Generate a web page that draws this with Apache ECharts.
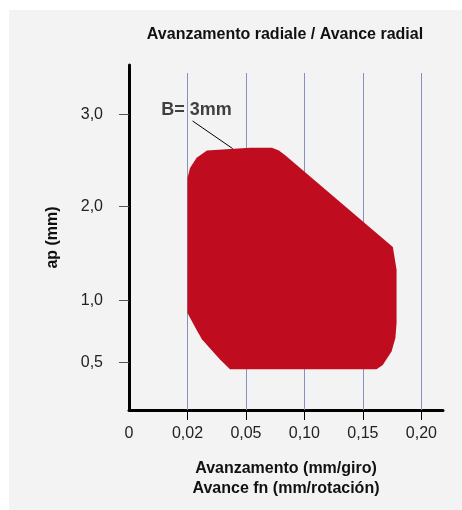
<!DOCTYPE html>
<html>
<head>
<meta charset="utf-8">
<script src="https://cdn.jsdelivr.net/npm/echarts@6/dist/echarts.min.js"></script>
<style>
html, body { margin: 0; padding: 0; background: #fff; }
#panel { position: absolute; left: 9px; top: 10px; width: 453px; height: 500px; background: #f3f3f3; }
#chart { position: absolute; left: 0; top: 0; width: 462px; height: 510px; }
</style>
</head>
<body>
<div id="panel"></div>
<div id="chart"></div>
<script>
var fnTicks = [0, 0.02, 0.05, 0.10, 0.15, 0.20];
var fnLabels = ['0', '0,02', '0,05', '0,10', '0,15', '0,20'];
var apTicks = [0.5, 1, 2, 3];
var apLabels = ['0,5', '1,0', '2,0', '3,0'];

// outline of the B = 3mm working field (fn mm/giro, ap mm)
var areaFn = [0.020, 0.0213, 0.0247, 0.030, 0.0534, 0.0722, 0.0782, 0.0833, 0.1756, 0.1788,
              0.1788, 0.1778, 0.1745, 0.167, 0.1617, 0.0418, 0.0367, 0.0315, 0.0274, 0.0247, 0.020];
var areaAp = [2.31, 2.42, 2.53, 2.61, 2.64, 2.64, 2.61, 2.56, 1.57, 1.33,
              0.82, 0.70, 0.59, 0.476, 0.43, 0.43, 0.526, 0.616, 0.69, 0.764, 0.90];

// leader line of the "B= 3mm" note
var leaderFn = [0.0226, 0.0432];
var leaderAp = [2.93, 2.63];

// both axes of the drawing are not linear, map values piecewise onto the axis
var fnSlots = [0, 1, 2, 3, 4, 5];
var apKnots = [0, 0.5, 1, 2, 3];
var apPos = [0, 47.3, 109.3, 203.3, 295.5];

function piece(v, xs, ys) {
    var i = 1;
    while (i < xs.length - 1 && v > xs[i]) i++;
    return ys[i - 1] + (v - xs[i - 1]) * (ys[i] - ys[i - 1]) / (xs[i] - xs[i - 1]);
}
function fx(v) { return piece(v, fnTicks, fnSlots); }
function ay(v) { return piece(v, apKnots, apPos); }

var areaPts = areaFn.map(function (f, i) { return [fx(f), ay(areaAp[i])]; });
var leaderPts = leaderFn.map(function (f, i) { return [fx(f), ay(leaderAp[i])]; });
var apTickPos = apTicks.map(ay);

var font = 'Liberation Sans, Arial, sans-serif';

var chart = echarts.init(document.getElementById('chart'));
var option = {
    animation: false,
    backgroundColor: 'transparent',
    grid: { left: 129, right: 19, top: 65, bottom: 100 },
    graphic: [{
        type: 'text',
        x: 285, y: 35,
        style: {
            text: 'Avanzamento radiale / Avance radial',
            font: 'bold 16px ' + font,
            fill: '#111',
            textAlign: 'center',
            textVerticalAlign: 'middle'
        }
    }],
    xAxis: {
        type: 'value',
        min: 0,
        max: 5.37,
        interval: 1,
        name: 'Avanzamento (mm/giro)\nAvance fn (mm/rotación)',
        nameLocation: 'middle',
        nameGap: 49,
        nameTextStyle: { fontFamily: font, fontWeight: 'bold', fontSize: 16, lineHeight: 20, color: '#111' },
        axisLine: { lineStyle: { color: '#000', width: 3 } },
        axisTick: { customValues: [1, 2, 3, 4, 5], length: 10, lineStyle: { color: '#000', width: 1 } },
        axisLabel: {
            customValues: fnSlots,
            margin: 16,
            fontFamily: font,
            fontSize: 16,
            color: '#222',
            formatter: function (v) { return fnLabels[Math.round(v)]; }
        },
        splitLine: { show: false }
    },
    yAxis: {
        type: 'value',
        min: 0,
        max: 345,
        name: 'ap (mm)',
        nameLocation: 'middle',
        nameGap: 68,
        nameTextStyle: { fontFamily: font, fontWeight: 'bold', fontSize: 16, color: '#111' },
        axisLine: { lineStyle: { color: '#000', width: 3 } },
        axisTick: { customValues: apTickPos, length: 10, lineStyle: { color: '#555', width: 1 } },
        axisLabel: {
            customValues: apTickPos,
            margin: 26,
            fontFamily: font,
            fontSize: 16,
            color: '#222',
            formatter: function (v) {
                for (var i = 0; i < apTickPos.length; i++) {
                    if (Math.abs(apTickPos[i] - v) < 0.01) return apLabels[i];
                }
                return '';
            }
        },
        splitLine: { show: false }
    },
    series: [{
        // vertical guide lines, kept under the field
        type: 'line',
        data: [],
        z: 1,
        markLine: {
            silent: true,
            z: 1,
            symbol: 'none',
            label: { show: false },
            lineStyle: { color: '#8890bd', width: 1, type: 'solid' },
            data: fnSlots.slice(1).map(function (k) {
                return [{ coord: [k, 0] }, { coord: [k, 337] }];
            })
        }
    }, {
        type: 'custom',
        data: areaPts,
        renderItem: function (params, api) {
            if (params.dataIndex !== 0) return null;
            var pts = areaPts.map(function (p) { return api.coord(p); });
            return { type: 'polygon', shape: { points: pts }, style: { fill: '#c00c1f' } };
        },
        z: 3
    }, {
        type: 'line',
        data: leaderPts,
        symbol: 'none',
        lineStyle: { color: '#000', width: 1 },
        z: 4
    }, {
        type: 'scatter',
        data: [leaderPts[0]],
        symbolSize: 0,
        label: {
            show: true,
            position: 'top',
            distance: 2,
            offset: [4, 0],
            formatter: 'B= 3mm',
            fontFamily: font,
            fontWeight: 'bold',
            fontSize: 18,
            color: '#111'
        },
        z: 5
    }]
};
chart.setOption(option);
</script>
</body>
</html>
